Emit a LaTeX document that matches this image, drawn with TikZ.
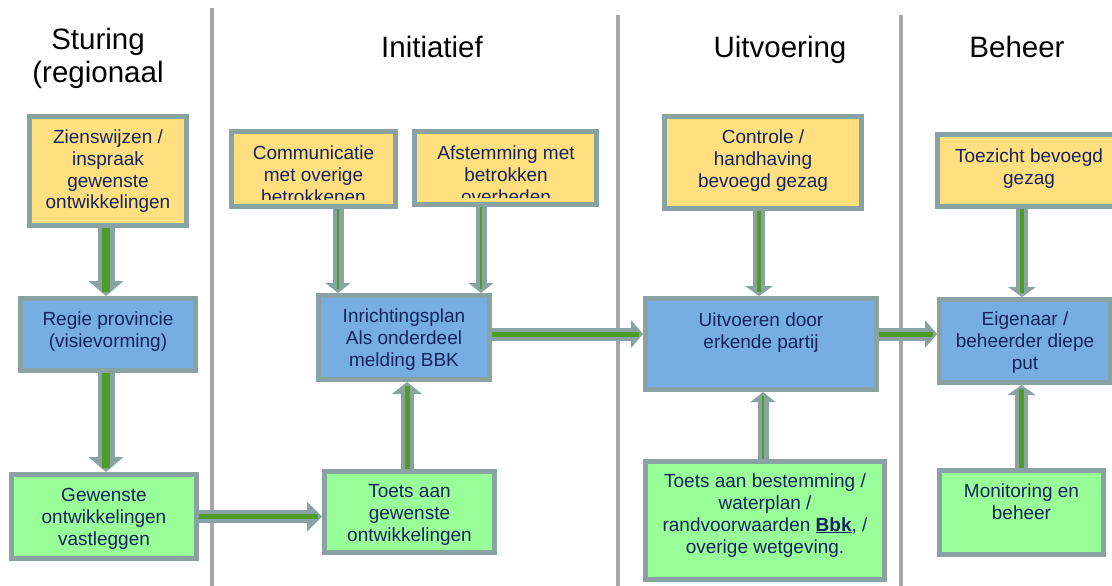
\documentclass[tikz,border=0pt]{standalone}
\usepackage{fontspec}
\setmainfont{Liberation Sans}
\usetikzlibrary{arrows.meta}
\definecolor{boxyellow}{RGB}{255,223,128}
\definecolor{boxblue}{RGB}{118,174,226}
\definecolor{boxgreen}{RGB}{153,255,153}
\definecolor{bordercol}{RGB}{137,163,163}
\definecolor{navy}{RGB}{22,36,92}
\definecolor{arrgreen}{RGB}{79,155,40}
\definecolor{sepgray}{RGB}{166,166,166}
\newcommand\txtlines[1]{\begin{tabular}[t]{@{}c@{}}#1\end{tabular}}
\begin{document}
\begin{tikzpicture}[x=1pt,y=-1pt,
  box/.style={draw=bordercol, line width=5pt, inner sep=0pt},
  txt/.style={anchor=base, inner sep=0pt, font=\fontsize{19}{22}\selectfont, text=navy},
  head/.style={anchor=base, inner sep=0pt, font=\fontsize{29.5}{33}\selectfont, text=black},
  sepline/.style={draw=sepgray, line width=4pt},
  shaft/.style n args={3}{draw=bordercol, line width=#1, arrows={-{Triangle[width=#2,length=#3,line width=0pt]}}},
  core/.style={draw=arrgreen, line width=#1, shorten >=4pt}]
\useasboundingbox (0,0) rectangle (1112,586);
\fill[white] (0,0) rectangle (1112,586);

% separators
\draw[sepline] (212,8) -- (212,586);
\draw[sepline] (618,15) -- (618,586);
\draw[sepline] (901,15) -- (901,586);

% headers
\node[head] (h1) at (98,50) {\begin{tabular}[t]{@{}c@{}}Sturing\\(regionaal\end{tabular}};
\node[head] (h2) at (432,58) {Initiatief};
\node[head] (h3) at (780,58) {Uitvoering};
\node[head] (h4) at (1017,58) {Beheer};

% boxes
\node[box, fill=boxyellow, minimum width=157pt, minimum height=109pt] (zien) at (108,171) {};
\node[box, fill=boxyellow, minimum width=164pt, minimum height=75pt] (comm) at (313.5,169) {};
\node[box, fill=boxyellow, minimum width=182pt, minimum height=73pt] (afst) at (505.5,168) {};
\node[box, fill=boxyellow, minimum width=197pt, minimum height=92pt] (ctrl) at (763,162.5) {};
\node[box, fill=boxyellow, minimum width=182pt, minimum height=72pt] (toez) at (1028.5,170.5) {};

\node[box, fill=boxblue, minimum width=175pt, minimum height=72pt] (regie) at (108,334.5) {};
\node[box, fill=boxblue, minimum width=171pt, minimum height=84pt] (inr) at (404,337.5) {};
\node[box, fill=boxblue, minimum width=231pt, minimum height=91pt] (uitv) at (761,344) {};
\node[box, fill=boxblue, minimum width=171pt, minimum height=83pt] (eig) at (1025,341) {};

\node[box, fill=boxgreen, minimum width=185pt, minimum height=84pt] (gew) at (104,516.5) {};
\node[box, fill=boxgreen, minimum width=170pt, minimum height=81pt] (toetsg) at (409.5,512) {};
\node[box, fill=boxgreen, minimum width=239pt, minimum height=118pt] (toetsb) at (765,520.5) {};
\node[box, fill=boxgreen, minimum width=164pt, minimum height=84pt] (mon) at (1021.5,512.5) {};

% box texts
\node[txt] (zien-t) at (108,143) {\txtlines{Zienswijzen /\\inspraak\\gewenste\\ontwikkelingen}};
\begin{scope}
\clip (229,129) rectangle (398,199);
\node[txt] (comm-t) at (313.5,159) {\txtlines{Communicatie\\met overige\\betrokkenen}};
\end{scope}
\begin{scope}
\clip (412,129) rectangle (599,197);
\node[txt] (afst-t) at (506,159) {\txtlines{Afstemming met\\betrokken\\overheden}};
\end{scope}
\node[txt] (ctrl-t) at (763,143) {\txtlines{Controle /\\handhaving\\bevoegd gezag}};
\node[txt] (toez-t) at (1029,162) {\txtlines{Toezicht bevoegd\\gezag}};

\node[txt] (regie-t) at (108,325) {\txtlines{Regie provincie\\(visievorming)}};
\node[txt] (inr-t) at (404,322) {\txtlines{Inrichtingsplan\\Als onderdeel\\melding BBK}};
\node[txt] (uitv-t) at (761,326) {\txtlines{Uitvoeren door\\erkende partij}};
\node[txt] (eig-t) at (1025,325) {\txtlines{Eigenaar /\\beheerder diepe\\put}};

\node[txt] (gew-t) at (104,501) {\txtlines{Gewenste\\ontwikkelingen\\vastleggen}};
\begin{scope}
\clip (322,469) rectangle (497,544);
\node[txt] (toetsg-t) at (409.5,497) {\txtlines{Toets aan\\gewenste\\ontwikkelingen}};
\end{scope}
\node[txt] (toetsb-t) at (765,487) {\txtlines{Toets aan bestemming /\\waterplan /\\randvoorwaarden \textbf{\underline{Bbk}}, /\\overige wetgeving.}};
\node[txt] (mon-t) at (1021.5,497) {\txtlines{Monitoring en\\beheer}};

% arrows
\draw[shaft={17pt}{35pt}{15pt}] ([xshift=-2pt]zien.south) -- ([xshift=-2pt]zien.south |- regie.north);
\draw[core=8pt] ([xshift=-2pt]zien.south) -- ([xshift=-2pt]zien.south |- regie.north);

\draw[shaft={17pt}{35pt}{15pt}] ([xshift=-2pt]regie.south) -- ([xshift=-2pt]regie.south |- gew.north);
\draw[core=8pt] ([xshift=-2pt]regie.south) -- ([xshift=-2pt]regie.south |- gew.north);

\draw[shaft={13pt}{30pt}{15pt}] (gew.east) -- (gew.east -| toetsg.west);
\draw[core=5pt] (gew.east) -- (gew.east -| toetsg.west);

\draw[shaft={11pt}{25pt}{10pt}] ([xshift=24.5pt]comm.south) -- ([xshift=24.5pt]comm.south |- inr.north);
\draw[core=2pt] ([xshift=24.5pt]comm.south) -- ([xshift=24.5pt]comm.south |- inr.north);

\draw[shaft={11pt}{25pt}{10pt}] ([xshift=-24.5pt]afst.south) -- ([xshift=-24.5pt]afst.south |- inr.north);
\draw[core=2pt] ([xshift=-24.5pt]afst.south) -- ([xshift=-24.5pt]afst.south |- inr.north);

\draw[shaft={13pt}{30pt}{12pt}] ([xshift=-2.5pt]toetsg.north) -- ([xshift=-2.5pt]toetsg.north |- inr.south);
\draw[core=5pt] ([xshift=-2.5pt]toetsg.north) -- ([xshift=-2.5pt]toetsg.north |- inr.south);

\draw[shaft={13pt}{28pt}{12pt}] ([yshift=3.5pt]inr.east) -- ([yshift=3.5pt]inr.east -| uitv.west);
\draw[core=5pt] ([yshift=3.5pt]inr.east) -- ([yshift=3.5pt]inr.east -| uitv.west);

\draw[shaft={12pt}{28pt}{10pt}] ([xshift=-4pt]ctrl.south) -- ([xshift=-4pt]ctrl.south |- uitv.north);
\draw[core=4pt] ([xshift=-4pt]ctrl.south) -- ([xshift=-4pt]ctrl.south |- uitv.north);

\draw[shaft={11pt}{25pt}{10pt}] ([xshift=-2pt]toetsb.north) -- ([xshift=-2pt]toetsb.north |- uitv.south);
\draw[core=2pt] ([xshift=-2pt]toetsb.north) -- ([xshift=-2pt]toetsb.north |- uitv.south);

\draw[shaft={13pt}{28pt}{12pt}] ([yshift=10pt]uitv.east) -- ([yshift=10pt]uitv.east -| eig.west);
\draw[core=5pt] ([yshift=10pt]uitv.east) -- ([yshift=10pt]uitv.east -| eig.west);

\draw[shaft={12pt}{28pt}{10pt}] ([xshift=-6.5pt]toez.south) -- ([xshift=-6.5pt]toez.south |- eig.north);
\draw[core=4pt] ([xshift=-6.5pt]toez.south) -- ([xshift=-6.5pt]toez.south |- eig.north);

\draw[shaft={13pt}{28pt}{10pt}] (mon.north) -- (mon.north |- eig.south);
\draw[core=5pt] (mon.north) -- (mon.north |- eig.south);
\end{tikzpicture}
\end{document}
